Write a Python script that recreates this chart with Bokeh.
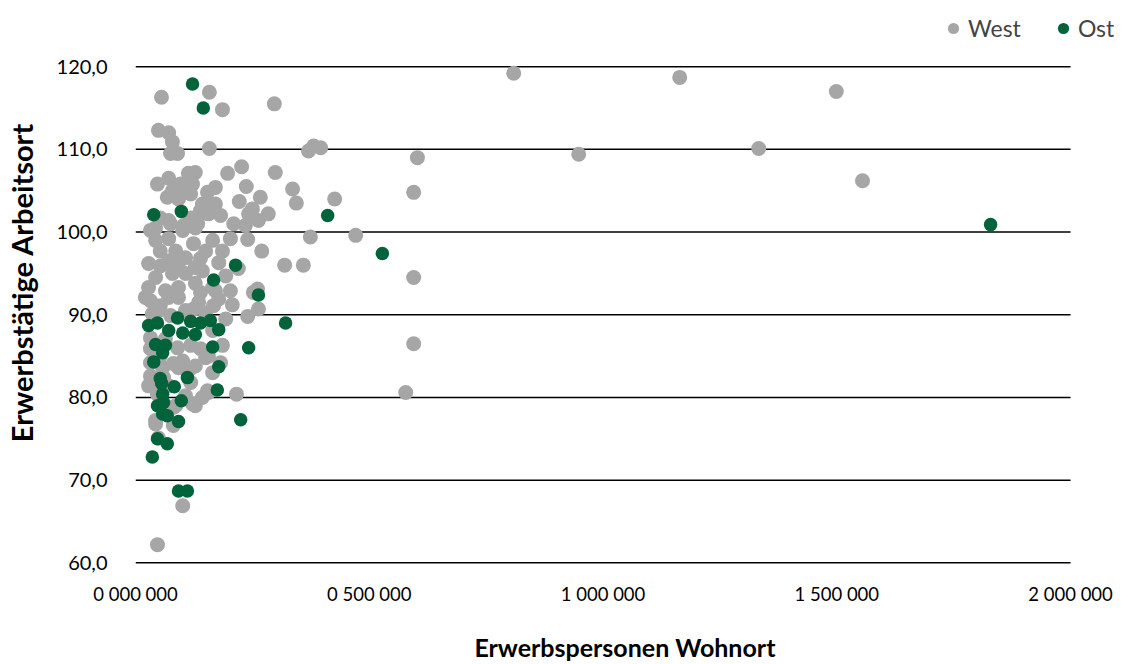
from bokeh.plotting import figure
from bokeh.models import Range1d, FixedTicker, Legend, LegendItem
from bokeh.embed import file_html
from bokeh.resources import INLINE

west_x = [55600, 158000, 186000, 297000, 49000, 71000, 79000, 75000, 90000, 158000,
          370000, 381000, 396000, 603000, 595000, 595000, 595000, 578000, 809000, 1164000,
          1499000, 948000, 1333000, 1555000, 471000, 426000, 374000, 319000, 359000, 344000,
          336000, 299000, 227000, 197000, 113000, 128000, 47000, 71000, 122000, 79000,
          92000, 154000, 171000, 237000, 143000, 135000, 128000, 71000, 43000, 43000,
          71000, 101000, 165000, 124000, 86000, 53000, 28000, 71000, 107000, 150000,
          128000, 43000, 79000, 107000, 143000, 28000, 64000, 92000, 128000, 165000,
          92000, 71000, 222000, 267000, 250000, 284000, 242000, 263000, 210000, 235000,
          171000, 203000, 240000, 186000, 270000, 220000, 171000, 261000, 252000, 207000,
          263000, 240000, 32000, 32000, 43000, 32000, 90000, 139000, 150000, 81000,
          118000, 182000, 165000, 135000, 21000, 92000, 58000, 154000, 122000, 86000,
          43000, 143000, 47000, 81000, 128000, 156000, 216000, 43000, 81000, 49000,
          101000, 47000, 32000, 53000, 75000, 103000, 118000, 133000, 109000, 139000,
          182000, 160000, 156000, 96000, 118000, 68000, 32000, 36000, 53000, 107000,
          150000, 193000, 64000, 118000, 186000, 101000, 118000, 71000, 60000, 53000,
          92000, 139000, 178000, 193000, 203000, 139000, 49000, 75000, 124000, 167000,
          178000, 53000, 156000, 165000, 128000, 32000, 53000, 107000, 28000]
west_y = [116.3, 116.9, 114.8, 115.5, 112.3, 112.0, 110.9, 109.5, 109.5, 110.1,
          109.8, 110.4, 110.2, 109.0, 104.8, 94.5, 86.5, 80.6, 119.2, 118.7,
          117.0, 109.4, 110.1, 106.2, 99.6, 104.0, 99.4, 96.0, 96.0, 103.5,
          105.2, 107.2, 107.9, 107.1, 107.1, 107.2, 105.8, 106.5, 105.8, 105.0,
          104.0, 104.8, 105.4, 105.5, 103.4, 102.0, 100.5, 101.4, 100.5, 99.0,
          99.2, 100.2, 99.0, 98.6, 97.7, 97.7, 96.2, 96.5, 96.9, 97.7,
          95.7, 94.5, 95.0, 95.0, 95.3, 93.3, 92.9, 93.3, 93.8, 93.3,
          92.1, 92.1, 103.7, 104.2, 102.8, 102.2, 102.2, 101.4, 101.0, 100.8,
          103.4, 99.2, 99.1, 97.7, 97.7, 95.6, 92.9, 93.1, 92.7, 91.2,
          90.7, 89.8, 87.2, 85.9, 85.4, 84.2, 86.0, 85.9, 84.8, 84.1,
          83.5, 84.2, 88.1, 91.5, 92.1, 83.6, 83.6, 80.8, 79.2, 79.0,
          77.2, 80.0, 80.4, 78.8, 79.0, 80.6, 80.4, 76.8, 76.6, 75.1,
          66.9, 62.2, 100.2, 101.7, 101.0, 100.8, 101.7, 101.0, 105.0, 102.6,
          102.0, 103.4, 102.2, 105.8, 104.6, 104.2, 91.7, 90.1, 91.1, 90.5,
          90.2, 89.5, 87.1, 86.3, 86.3, 84.4, 81.8, 81.4, 82.4, 95.9,
          96.3, 96.8, 96.3, 94.7, 92.9, 92.7, 90.5, 89.9, 90.7, 91.1,
          91.9, 85.0, 85.0, 83.0, 83.8, 82.6, 79.0, 80.2, 81.4]

ost_x = [122000, 145000, 39000, 98000, 1829000, 411000, 528000, 214000, 167000, 263000,
         321000, 28000, 47000, 90000, 118000, 139000, 160000, 178000, 71000, 101000,
         128000, 43000, 64000, 58000, 165000, 242000, 39000, 178000, 53000, 111000,
         83000, 175000, 58000, 98000, 47000, 58000, 68000, 92000, 225000, 47000,
         68000, 36000, 92000, 111000, 56000, 60000]
ost_y = [117.9, 115.0, 102.1, 102.5, 100.9, 102.0, 97.4, 96.0, 94.2, 92.4,
         89.0, 88.7, 89.0, 89.6, 89.2, 89.0, 89.3, 88.2, 88.1, 87.8,
         87.6, 86.4, 86.3, 85.4, 86.1, 86.0, 84.3, 83.7, 82.3, 82.4,
         81.3, 80.9, 80.4, 79.6, 79.0, 78.0, 77.8, 77.1, 77.3, 75.0,
         74.4, 72.8, 68.7, 68.7, 81.7, 79.4]

y_ticks = [60, 70, 80, 90, 100, 110, 120]
y_tick_labels = ["60,0", "70,0", "80,0", "90,0", "100,0", "110,0", "120,0"]
x_ticks = [0, 500000, 1000000, 1500000, 2000000]
x_tick_labels = ["0 000 000", "0 500 000", "1 000 000", "1 500 000", "2 000 000"]

FONT = "Lato"
GRAY = "#A6A6A6"
GREEN = "#00633A"

p = figure(width=1114, height=664, output_backend="svg", toolbar_location=None,
           x_range=Range1d(0, 2094000), y_range=Range1d(59.8, 128.0),
           min_border_left=127, min_border_right=0, min_border_top=0, min_border_bottom=100)
p.outline_line_color = None
p.background_fill_color = "white"
p.xgrid.visible = False
p.ygrid.visible = False

# horizontal gridlines from the y tick values, spanning the x axis extent
p.segment(x0=[x_ticks[0]] * len(y_ticks), x1=[x_ticks[-1]] * len(y_ticks),
          y0=y_ticks, y1=y_ticks, line_color="black", line_width=1.5)

rw = p.scatter(west_x, west_y, size=15, fill_color=GRAY, line_color=None)
ro = p.scatter(ost_x, ost_y, size=13.5, fill_color=GREEN, line_color=None)

p.yaxis.ticker = FixedTicker(ticks=y_ticks)
p.yaxis.major_label_overrides = dict(zip(y_ticks, y_tick_labels))
p.xaxis.ticker = FixedTicker(ticks=x_ticks)
p.xaxis.major_label_overrides = dict(zip(x_ticks, x_tick_labels))

for ax in (p.xaxis[0], p.yaxis[0]):
    ax.axis_line_color = None
    ax.major_tick_line_color = None
    ax.minor_tick_line_color = None
    ax.major_tick_out = 0
    ax.major_tick_in = 0
    ax.minor_tick_out = 0
    ax.minor_tick_in = 0
    ax.major_label_text_font = FONT
    ax.major_label_text_color = "black"
    ax.axis_label_text_font = FONT
    ax.axis_label_text_font_style = "bold"
    ax.axis_label_text_color = "black"

p.xaxis.major_label_text_font_size = "18.5px"
p.yaxis.major_label_text_font_size = "20px"
p.xaxis.major_label_standoff = 18
p.xaxis.axis_label = "Erwerbspersonen Wohnort"
p.xaxis.axis_label_text_font_size = "25px"
p.xaxis.axis_label_standoff = 24
p.yaxis.axis_label = "Erwerbstätige Arbeitsort"
p.yaxis.axis_label_text_font_size = "29px"
p.yaxis.major_label_standoff = 28
p.yaxis.axis_label_standoff = 15

legend = Legend(items=[LegendItem(label="West", renderers=[rw]),
                       LegendItem(label="Ost", renderers=[ro])],
                orientation="horizontal", location=(804, 522),
                label_text_font=FONT, label_text_font_size="23px",
                glyph_width=28, glyph_height=28, label_standoff=1, spacing=28,
                padding=0, margin=0, border_line_color=None, background_fill_alpha=0)
p.add_layout(legend, "center")

open("out.html", "w").write(file_html(p, INLINE))
